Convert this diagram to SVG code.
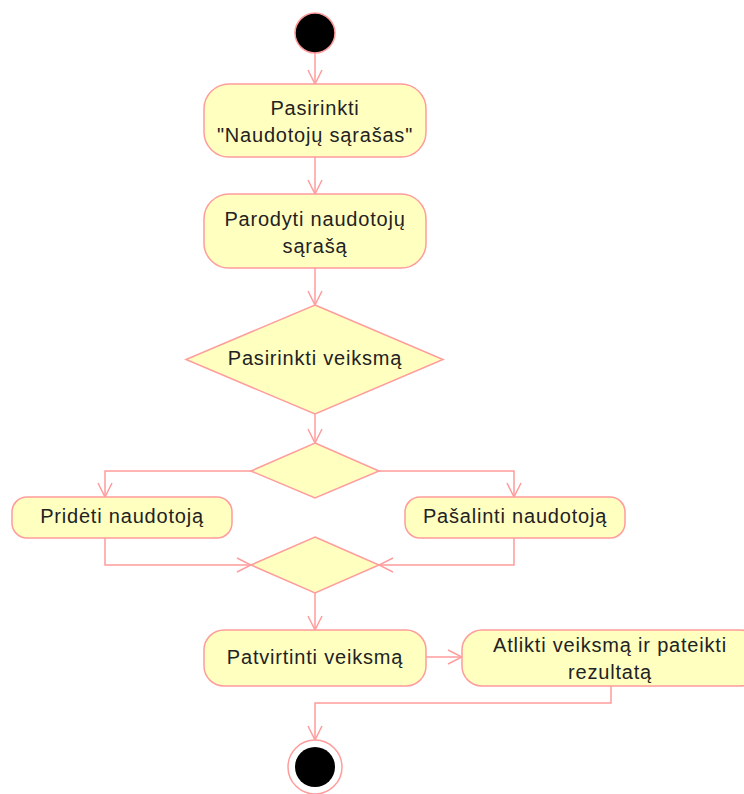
<svg xmlns="http://www.w3.org/2000/svg" width="744" height="794" viewBox="0 0 744 794">
  <defs>
    <style>
      .act { fill: #FFFFC0; stroke: #FF9C9C; stroke-width: 1.5; }
      .dec { fill: #FFFFC0; stroke: #FF9C9C; stroke-width: 1.5; }
      .flow { fill: none; stroke: #FF9C9C; stroke-width: 1.5; marker-end: url(#open); }
      .lbl { font-family: "Liberation Sans", Arial, sans-serif; font-size: 20px; letter-spacing: 0.8px; fill: #222; text-anchor: middle; }
    </style>
    <marker id="open" viewBox="0 0 16 16" refX="15" refY="8" markerWidth="16" markerHeight="16" markerUnits="userSpaceOnUse" orient="auto">
      <path d="M1,1 L15,8 L1,15" fill="none" stroke="#FF9C9C" stroke-width="1.5"/>
    </marker>
  </defs>
  <rect width="744" height="794" fill="#FFFFFF"/>

  <g id="connectors">
    <path class="flow" d="M315,53 L315,84"/>
    <path class="flow" d="M315,157 L315,194"/>
    <path class="flow" d="M315,268 L315,305"/>
    <path class="flow" d="M315,414 L315,443"/>
    <path class="flow" d="M251,471 L105,471 L105,497"/>
    <path class="flow" d="M379,471 L514,471 L514,497"/>
    <path class="flow" d="M105,538 L105,565 L251,565"/>
    <path class="flow" d="M514,538 L514,565 L379,565"/>
    <path class="flow" d="M315,593 L315,630"/>
    <path class="flow" d="M426,657 L462,657"/>
    <path class="flow" d="M611,686 L611,703 L315,703 L315,740"/>
  </g>

  <g id="start">
    <circle cx="315" cy="33" r="20" fill="#000000" stroke="#FF9C9C" stroke-width="1.5"/>
  </g>

  <g id="select-list">
    <rect class="act" x="204" y="84" width="222" height="73" rx="25" ry="25"/>
    <text class="lbl" x="315" y="115">Pasirinkti</text>
    <text class="lbl" x="315" y="142">"Naudotojų sąrašas"</text>
  </g>

  <g id="show-list">
    <rect class="act" x="204" y="194" width="222" height="74" rx="25" ry="25"/>
    <text class="lbl" x="315" y="226">Parodyti naudotojų</text>
    <text class="lbl" x="315" y="253">sąrašą</text>
  </g>

  <g id="choose-action">
    <polygon class="dec" points="315,305 443,359.5 315,414 186,359.5"/>
    <text class="lbl" x="315" y="365">Pasirinkti veiksmą</text>
  </g>

  <g id="branch">
    <polygon class="dec" points="315,443 379,471 315,498 251,471"/>
  </g>

  <g id="add-user">
    <rect class="act" x="12" y="497" width="220" height="41" rx="15" ry="15"/>
    <text class="lbl" x="122" y="523">Pridėti naudotoją</text>
  </g>

  <g id="remove-user">
    <rect class="act" x="405" y="497" width="220" height="41" rx="15" ry="15"/>
    <text class="lbl" x="515" y="523">Pašalinti naudotoją</text>
  </g>

  <g id="merge">
    <polygon class="dec" points="315,537 379,565 315,593 251,565"/>
  </g>

  <g id="confirm">
    <rect class="act" x="204" y="630" width="222" height="56" rx="20" ry="20"/>
    <text class="lbl" x="315" y="664">Patvirtinti veiksmą</text>
  </g>

  <g id="execute">
    <rect class="act" x="462" y="630" width="298" height="56" rx="20" ry="20"/>
    <text class="lbl" x="610" y="652">Atlikti veiksmą ir pateikti</text>
    <text class="lbl" x="610" y="679">rezultatą</text>
  </g>

  <g id="end">
    <circle cx="315" cy="767" r="27" fill="#FFFFFF" stroke="#FF9C9C" stroke-width="1.5"/>
    <circle cx="315" cy="767" r="20" fill="#000000"/>
  </g>
</svg>
